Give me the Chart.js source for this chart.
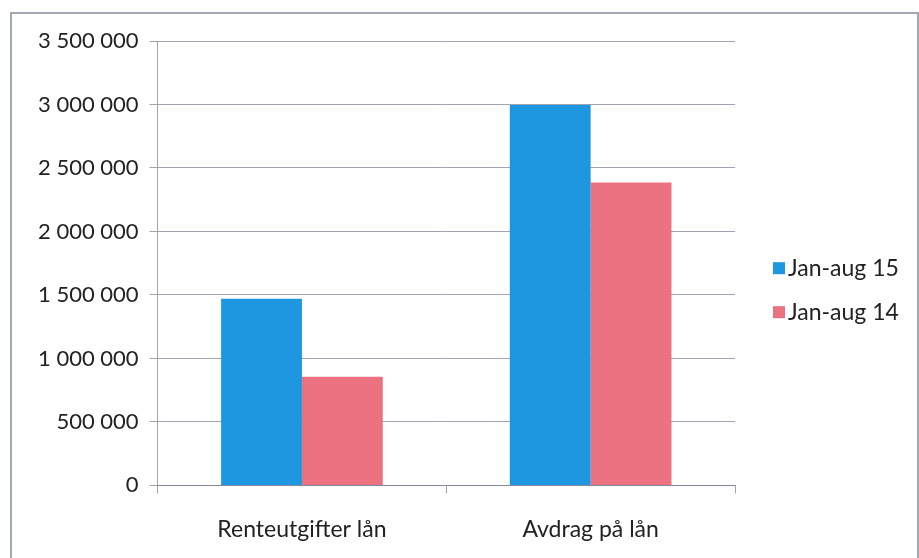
<!DOCTYPE html>
<html>
<head>
<meta charset="utf-8">
<script src="https://cdn.jsdelivr.net/npm/chart.js@4/dist/chart.umd.min.js"></script>
<style>
  html, body { margin: 0; padding: 0; background: #fff; }
  #frame {
    position: absolute; left: 10px; top: 12px;
    width: 905px; height: 544px;
    border: 2px solid #a4a8b0; border-bottom: none;
  }
  canvas { display: block; }
</style>
</head>
<body>
<div id="frame"><canvas id="chart" width="905" height="544"></canvas></div>
<script>
// ── Data ──
const categories = ['Renteutgifter lån', 'Avdrag på lån'];
const seriesNames = ['Jan-aug 15', 'Jan-aug 14'];
const jan15 = [1470000, 2995000];
const jan14 = [855000, 2385000];
const yTicks = [0, 500000, 1000000, 1500000, 2000000, 2500000, 3000000, 3500000];

const fmt = v => String(v).replace(/\B(?=(\d{3})+(?!\d))/g, ' ');
const family = 'Lato, "Liberation Sans", sans-serif';
const gridCol = 'rgba(120,126,145,0.7)';

// ── Legend on the right, Excel style ──
const sideLegend = {
    id: 'sideLegend',
    afterDraw(chart) {
        const { ctx, chartArea } = chart;
        const x = chartArea.right + 38;
        let y = (chartArea.top + chartArea.bottom) / 2 + 5;
        ctx.save();
        ctx.font = '23px ' + family;
        ctx.textBaseline = 'middle';
        chart.data.datasets.forEach(ds => {
            ctx.fillStyle = ds.backgroundColor;
            ctx.fillRect(x, y - 6, 12, 12);
            ctx.fillStyle = '#222';
            ctx.fillText(ds.label, x + 15, y);
            y += 44;
        });
        ctx.restore();
    }
};

new Chart(document.getElementById('chart'), {
    type: 'bar',
    data: {
        labels: categories,
        datasets: [
            { label: seriesNames[0], data: jan15, backgroundColor: '#1f97e0' },
            { label: seriesNames[1], data: jan14, backgroundColor: '#ec7282' }
        ]
    },
    plugins: [sideLegend],
    options: {
        responsive: false,
        animation: false,
        devicePixelRatio: 1,
        layout: { padding: { left: 15, top: 27, right: 182, bottom: -7 } },
        datasets: { bar: { categoryPercentage: 0.56, barPercentage: 1.0 } },
        plugins: {
            legend: { display: false },
            tooltip: { enabled: false }
        },
        scales: {
            x: {
                grid: { offset: true, drawOnChartArea: false, color: gridCol, tickLength: 8 },
                border: { color: gridCol },
                ticks: { font: { family, size: 23 }, color: '#222', padding: 22 }
            },
            y: {
                min: 0, max: 3500000,
                afterBuildTicks: axis => { axis.ticks = yTicks.map(v => ({ value: v })); },
                grid: { color: gridCol, tickLength: 8 },
                border: { color: gridCol },
                ticks: { font: { family, size: 22 }, color: '#222', padding: 11, callback: v => fmt(v) }
            }
        }
    }
});
</script>
</body>
</html>
